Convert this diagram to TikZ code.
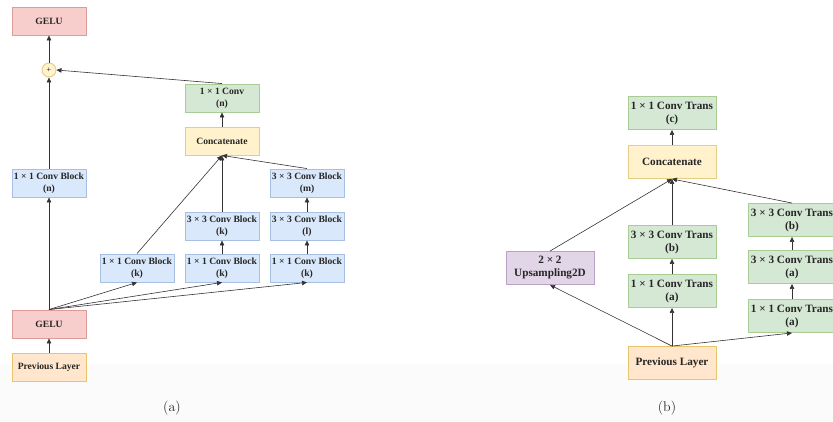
\documentclass[tikz,border=0pt]{standalone}
\usepackage{fontspec}
\usepackage{tikz}
\usetikzlibrary{arrows.meta, positioning}
\newfontfamily\boxfont{Liberation Serif}

\definecolor{redfill}{HTML}{F8CECC}   \definecolor{redline}{HTML}{DC9C9A}
\definecolor{bluefill}{HTML}{DAE8FC}  \definecolor{blueline}{HTML}{A7BFE0}
\definecolor{grnfill}{HTML}{D5E8D4}   \definecolor{grnline}{HTML}{A8CC94}
\definecolor{yelfill}{HTML}{FFF2CC}   \definecolor{yelline}{HTML}{E6CD85}
\definecolor{orgfill}{HTML}{FFE6CC}   \definecolor{orgline}{HTML}{E8C46A}
\definecolor{purfill}{HTML}{E1D5E7}   \definecolor{purline}{HTML}{B9A2C4}

\begin{document}
\begin{tikzpicture}[
    x=1pt, y=-1pt,
    every node/.style={inner sep=0pt},
    blk/.style    ={draw, line width=0.9pt, align=center, text=black!85,
                    minimum width=74pt, minimum height=28pt,
                    font=\boxfont\fontsize{9.6}{12}\selectfont\bfseries},
    wide/.style   ={blk, minimum width=88pt, minimum height=33pt,
                    font=\boxfont\fontsize{11.2}{13}\selectfont\bfseries},
    act/.style    ={fill=redfill, draw=redline},
    conv/.style   ={fill=bluefill, draw=blueline},
    trans/.style  ={fill=grnfill, draw=grnline},
    merge/.style  ={fill=yelfill, draw=yelline},
    input/.style  ={fill=orgfill, draw=orgline},
    upsamp/.style ={fill=purfill, draw=purline},
    sum/.style    ={circle, minimum size=14pt, fill=yelfill, draw=yelline,
                    line width=0.9pt, font=\boxfont\fontsize{8}{8}\selectfont},
    arr/.style    ={-{Triangle[length=5pt,width=4.5pt]},
                    line width=0.6pt, draw=black!80},
    subcap/.style ={font=\fontsize{14}{15}\selectfont, text=black!85},
  ]

  \useasboundingbox (0,0) rectangle (833,421);
  \clip (0,0) rectangle (833,421);
  \fill[black!1.5] (0,364) rectangle (833,421);

  %% --- panel (a): inception-style residual block ------------------------
  \def\xa{49}  \def\xb{137}  \def\xc{222}  \def\xd{307}

  \node[blk, act]   (geluT) at (\xa,21)  {GELU};
  \node[sum]        (plus)  at (\xa,70)  {+};
  \node[blk, trans] (proj)  at (\xc,98)  {1 × 1 Conv\\(n)};
  \node[blk, merge] (catA)  at (\xc,141) {Concatenate};
  \node[blk, conv]  (skip)  at (\xa,183) {1 × 1 Conv Block\\(n)};
  \node[blk, conv]  (c3m)   at (\xd,183) {3 × 3 Conv Block\\(m)};
  \node[blk, conv]  (c3k)   at (\xc,226) {3 × 3 Conv Block\\(k)};
  \node[blk, conv]  (c3l)   at (\xd,226) {3 × 3 Conv Block\\(l)};
  \node[blk, conv]  (c1a)   at (\xb,268) {1 × 1 Conv Block\\(k)};
  \node[blk, conv]  (c1b)   at (\xc,268) {1 × 1 Conv Block\\(k)};
  \node[blk, conv]  (c1c)   at (\xd,268) {1 × 1 Conv Block\\(k)};
  \node[blk, act]   (geluB) at (\xa,324) {GELU};
  \node[blk, input] (prevA) at (\xa,367) {Previous Layer};

  % stem and shortcut
  \draw[arr] (prevA) -- (geluB);
  \draw[arr] (geluB) -- (skip);
  \draw[arr] (skip) -- (plus);
  \draw[arr] (plus) -- (geluT);
  % branches
  \foreach \b in {c1a, c1b, c1c}
    \draw[arr] (geluB.north) -- (\b.south);
  \draw[arr] (c1b) -- (c3k);
  \draw[arr] (c1c) -- (c3l);
  \draw[arr] (c3l) -- (c3m);
  \foreach \b in {c1a, c3k, c3m}
    \draw[arr] (\b.north) -- (catA.south);
  \draw[arr] (catA) -- (proj);
  \draw[arr] (proj.north) -- (plus.east);

  \node[subcap] (capA) at (172,408) {(a)};

  %% --- panel (b): transposed-conv upsampling block ----------------------
  \def\xe{550}  \def\xf{672}  \def\xg{792}

  \node[wide, trans]  (outB) at (\xf,113) {1 × 1 Conv Trans\\(c)};
  \node[wide, merge]  (catB) at (\xf,162) {Concatenate};
  \node[wide, trans]  (tgb)  at (\xg,220) {3 × 3 Conv Trans\\(b)};
  \node[wide, trans]  (tmb)  at (\xf,242) {3 × 3 Conv Trans\\(b)};
  \node[wide, trans]  (tga)  at (\xg,267) {3 × 3 Conv Trans\\(a)};
  \node[wide, upsamp] (ups)  at (\xe,268) {2 × 2\\Upsampling2D};
  \node[wide, trans]  (tma)  at (\xf,291) {1 × 1 Conv Trans\\(a)};
  \node[wide, trans]  (tg1)  at (\xg,316) {1 × 1 Conv Trans\\(a)};
  \node[wide, input]  (prevB) at (\xf,363) {Previous Layer};

  \foreach \b in {ups, tma, tg1}
    \draw[arr] (prevB.north) -- (\b.south);
  \draw[arr] (tma) -- (tmb);
  \draw[arr] (tg1) -- (tga);
  \draw[arr] (tga) -- (tgb);
  \foreach \b in {ups, tmb, tgb}
    \draw[arr] (\b.north) -- (catB.south);
  \draw[arr] (catB) -- (outB);

  \node[subcap] (capB) at (667,408) {(b)};

\end{tikzpicture}
\end{document}
